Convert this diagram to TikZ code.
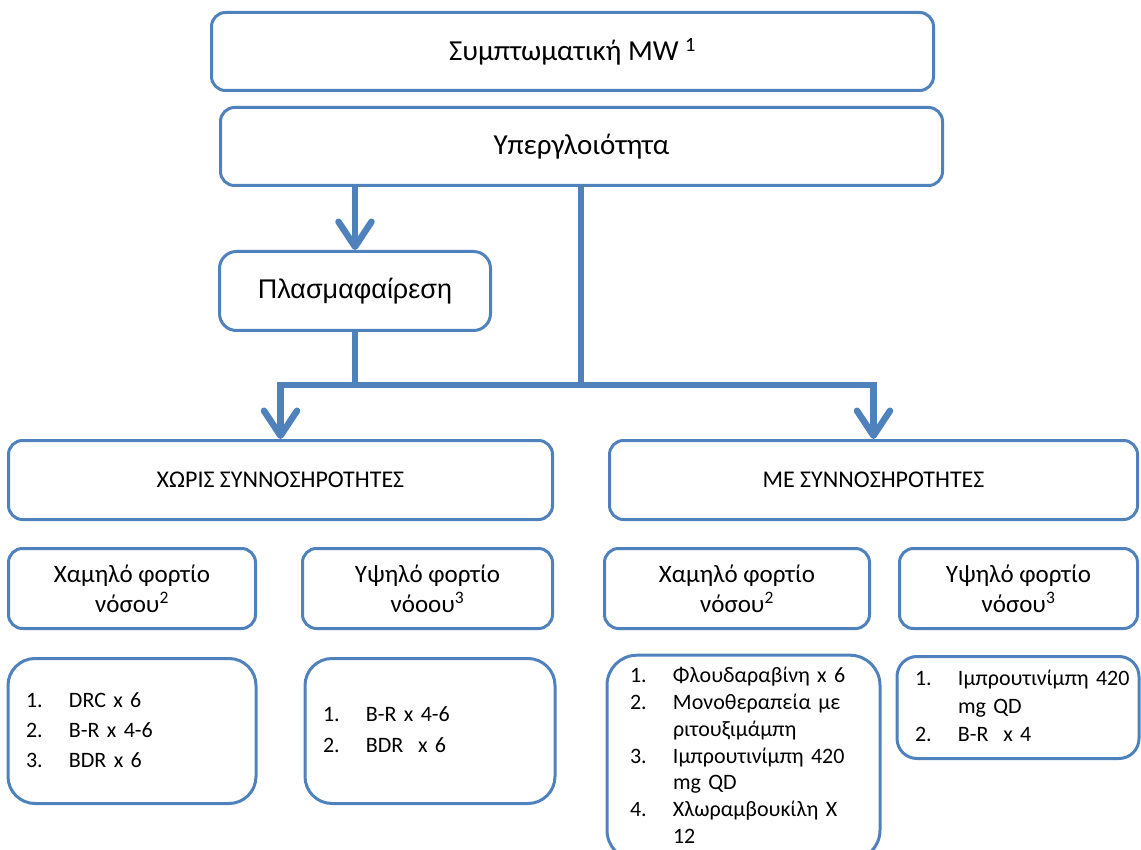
\documentclass[tikz,border=0pt]{standalone}
\usepackage{fontspec}
\setmainfont{Carlito}
\newfontfamily\arialfont{Liberation Sans}
\usetikzlibrary{arrows.meta}
\definecolor{boxblue}{RGB}{79,129,189}

\begin{document}
\begin{tikzpicture}[x=1pt, y=-1pt,
box/.style = {rectangle, draw=boxblue, line width=3pt, rounded corners=14pt,
              align=center, inner sep=0pt},
listbox/.style = {rectangle, draw=boxblue, line width=3pt, rounded corners=27pt,
                  inner xsep=18pt, inner ysep=0pt, align=left},
head/.style = {font=\fontsize{29}{34}\selectfont},
group/.style = {font=\fontsize{24}{29}\selectfont},
load/.style = {font=\fontsize{25}{30}\selectfont},
line/.style = {draw=boxblue, line width=6.5pt},
arrow/.style = {-{Straight Barb[length=25pt, width=33pt, round]}}]

\useasboundingbox (0,0) rectangle (1141,850);

% row 1
\node [box, head, minimum width=722pt, minimum height=78pt] (symptom) at (572.5,51.5)
      {Συμπτωματική MW \textsuperscript{1}};
% row 2
\node [box, head, minimum width=722pt, minimum height=78pt] (hyper) at (581.5,146.5)
      {Υπεργλοιότητα};
% row 3
\node [box, rounded corners=17pt, minimum width=271pt, minimum height=79pt,
       font=\arialfont\fontsize{27}{31}\selectfont] (plasma) at (355,291) {Πλασμαφαίρεση};
% row 4
\node [box, group, minimum width=544pt, minimum height=79pt] (without) at (280.5,480)
      {ΧΩΡΙΣ ΣΥΝΝΟΣΗΡΟΤΗΤΕΣ};
\node [box, group, minimum width=528pt, minimum height=79pt] (with) at (873.5,480)
      {ΜΕ ΣΥΝΝΟΣΗΡΟΤΗΤΕΣ};
% row 5
\node [box, load, minimum width=247pt, minimum height=80pt] (lowA) at (132,588.5)
      {Χαμηλό φορτίο\\νόσου\textsuperscript{2}};
\node [box, load, minimum width=250pt, minimum height=80pt] (highA) at (427.5,588.5)
      {Υψηλό φορτίο\\νόοου\textsuperscript{3}};
\node [box, load, minimum width=265pt, minimum height=80pt] (lowB) at (737,588.5)
      {Χαμηλό φορτίο\\νόσου\textsuperscript{2}};
\node [box, load, minimum width=238pt, minimum height=80pt] (highB) at (1018.5,588.5)
      {Υψηλό φορτίο\\νόσου\textsuperscript{3}};
% row 6
\node [listbox, text width=212pt, minimum height=145pt, font=\fontsize{22}{30}\selectfont]
      (listA1) at (132,731)
      {\begin{tabular}{@{}p{43pt}@{}l@{}}
       1. & DRC x 6\\
       2. & B-R x 4-6\\
       3. & BDR x 6
       \end{tabular}};
\node [listbox, text width=214pt, minimum height=145pt, font=\fontsize{22}{30.5}\selectfont]
      (listA2) at (430,731)
      {\begin{tabular}{@{}p{43pt}@{}l@{}}
       1. & B-R x 4-6\\
       2. & BDR\ \ x 6
       \end{tabular}};
\node [listbox, inner xsep=23pt, rounded corners=30pt, text width=227pt, minimum height=205pt,
       font=\fontsize{22}{26.7}\selectfont] (listB1) at (743.5,757.7)
      {\begin{tabular}{@{}p{43pt}@{}l@{}}
       1. & Φλουδαραβίνη x 6\\
       2. & Μονοθεραπεία με\\
          & ριτουξιμάμπη\\
       3. & Ιμπρουτινίμπη 420\\
          & mg QD\\
       4. & Χλωραμβουκίλη X\\
          & 12
       \end{tabular}};
\node [listbox, rounded corners=20pt, text width=206pt, minimum height=102pt,
       font=\fontsize{22}{28}\selectfont] (listB2) at (1018,707.5)
      {\begin{tabular}{@{}p{43pt}@{}l@{}}
       1. & Ιμπρουτινίμπη 420\\
          & mg QD\\
       2. & B-R\ \ x 4
       \end{tabular}};

\coordinate (join) at (581,385);

\begin{scope}[every path/.style=line]
\path [arrow] (plasma.north |- hyper.south) -- (plasma.north);
\path (hyper.south -| join) -- (join);
\path (plasma.south) -- (plasma.south |- join);
\path [arrow] (join) -| (without.north);
\path [arrow] (join) -| (with.north);
\end{scope}
\end{tikzpicture}
\end{document}
